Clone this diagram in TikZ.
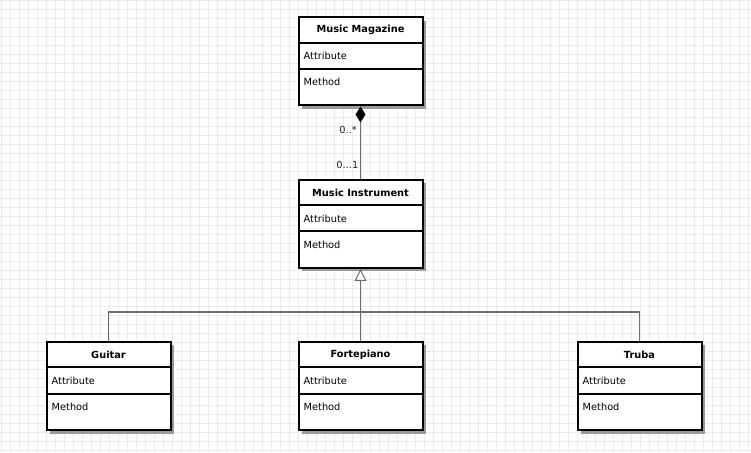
\documentclass[tikz,border=0pt]{standalone}
\usepackage{fontspec}
\setmainfont{DejaVu Sans}
\usetikzlibrary{arrows.meta,calc,shadows}
\definecolor{gridc}{HTML}{ECEAF6}
\definecolor{linec}{HTML}{6E6E6E}
\definecolor{shadc}{HTML}{9A9A9A}
\tikzset{
  classbox/.style={draw=black, line width=2pt, fill=white, minimum width=124pt, minimum height=88pt, inner sep=0pt,
    drop shadow={shadow xshift=3.5pt, shadow yshift=-3.5pt, fill=shadc, opacity=1}},
  hdr/.style={font=\bfseries\fontsize{9.8}{11}\selectfont, inner sep=0pt},
  item/.style={font=\fontsize{9.8}{11}\selectfont, inner sep=0pt, anchor=west},
  sep/.style={line width=2pt, black},
  conn/.style={draw=linec, line width=1.4pt},
  mult/.style={font=\fontsize{9.8}{11}\selectfont, inner sep=0pt, text=black!85}
}
\newcommand{\umlclass}[3]{%
  \node[classbox] (#1) at (#2) {};
  \node[hdr] (#1-h) at ($(#1.north)+(0,-13.5)$) {#3};
  \draw[sep] ($(#1.north west)+(0,-26.5)$) -- ($(#1.north east)+(0,-26.5)$);
  \draw[sep] ($(#1.north west)+(0,-52.5)$) -- ($(#1.north east)+(0,-52.5)$);
  \node[item] (#1-a) at ($(#1.north west)+(6,-39.5)$) {Attribute};
  \node[item] (#1-m) at ($(#1.north west)+(6,-65.5)$) {Method};
}
\begin{document}
\begin{tikzpicture}[x=1pt,y=1pt]
\useasboundingbox (0,0) rectangle (751,452);
\fill[white] (0,0) rectangle (751,452);
\draw[gridc, line width=0.8pt, step=9pt, shift={(1pt,2pt)}] (-1,-2) grid (751,452);
% classes (y measured from top: y = 452 - ypx)
\umlclass{mag}{360.5,390.5}{Music Magazine}
\umlclass{ins}{360.5,228}{Music Instrument}
\umlclass{gui}{108.5,66}{Guitar}
\umlclass{for}{360.5,66}{Fortepiano}
\umlclass{tru}{639.5,66}{Truba}
% composition
\draw[conn, {Diamond[length=16pt,width=10pt,fill=black,color=black]}-] (mag.south) -- (ins.north);
\node[mult, anchor=east] (m1) at (357,322) {0..*};
\node[mult, anchor=east] (m2) at (358.5,287) {0...1};
% generalization
\coordinate (j) at (360.5,140);
\draw[conn, -{Triangle[open,length=12pt,width=12pt,fill=white,line width=1pt]}] (for.north) -- (ins.south);
\draw[conn] (gui.north) |- (j);
\draw[conn] (tru.north) |- (j);
\end{tikzpicture}
\end{document}
